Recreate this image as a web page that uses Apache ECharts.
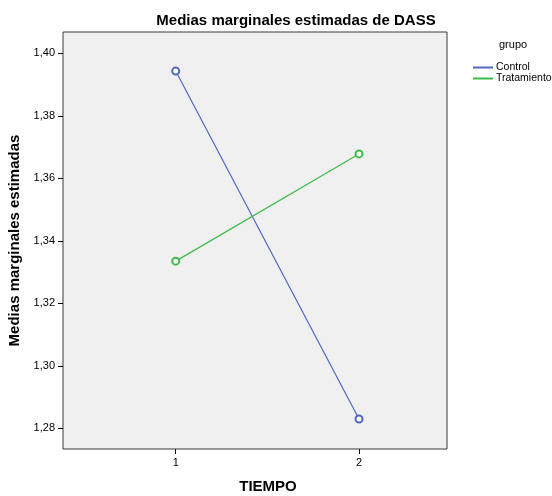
<!DOCTYPE html>
<html>
<head>
<meta charset="utf-8">
<script src="https://cdn.jsdelivr.net/npm/echarts@6/dist/echarts.min.js"></script>
<style>html,body{margin:0;padding:0;background:#fff;}#c{width:552px;height:496px;}</style>
</head>
<body>
<div id="c"></div>
<script>
var tiempo = [1, 2];
var controlVals = [1.3943, 1.2830];
var tratamientoVals = [1.3335, 1.3678];
var yTicks = [1.28, 1.30, 1.32, 1.34, 1.36, 1.38, 1.40];
var xTicks = [1, 2];
var seriesNames = ['Control', 'Tratamiento'];
var colors = ['#4f68c2', '#3dbb4b'];

function pairs(xs, ys) { return xs.map(function (x, i) { return [x, ys[i]]; }); }

var chart = echarts.init(document.getElementById('c'), null, { renderer: 'canvas' });
var font = 'Arial, "Liberation Sans", sans-serif';
chart.setOption({
  animation: false,
  textStyle: { fontFamily: font },
  grid: { left: 63, top: 32, width: 384, height: 417, show: true, backgroundColor: '#f0f0f0', borderColor: '#3a3a3a', borderWidth: 1, containLabel: false, outerBoundsMode: 'none' },
  graphic: [
    { type: 'text', style: { x: 296, y: 21, text: 'Medias marginales estimadas de DASS', textAlign: 'center', textVerticalAlign: 'middle', font: 'bold 15px ' + font, fill: '#000' } },
    { type: 'text', style: { x: 268, y: 487, text: 'TIEMPO', textAlign: 'center', textVerticalAlign: 'middle', font: 'bold 15px ' + font, fill: '#000' } },
    { type: 'text', style: { x: 499, y: 45, text: 'grupo', textAlign: 'left', textVerticalAlign: 'middle', font: '11px ' + font, fill: '#000' } }
  ],
  legend: {
    orient: 'vertical', left: 473, top: 62, padding: 0, itemWidth: 20, itemHeight: 2, itemGap: 0, icon: 'rect',
    textStyle: { fontSize: 10.5, lineHeight: 10.5, color: '#000', padding: [0, 0, 0, -2] },
    data: seriesNames
  },
  xAxis: {
    type: 'value', min: 0.385, max: 2.48,
    axisLine: { show: false },
    splitLine: { show: false },
    axisTick: { show: true, length: 5, customValues: xTicks, lineStyle: { color: '#000' } },
    axisLabel: { customValues: xTicks, margin: 8, fontSize: 11, color: '#000' }
  },
  yAxis: {
    type: 'value', min: 1.2734, max: 1.4068,
    name: 'Medias marginales estimadas', nameLocation: 'middle', nameGap: 34,
    nameTextStyle: { fontSize: 15, fontWeight: 'bold', color: '#000' },
    axisLine: { show: false },
    splitLine: { show: false },
    axisTick: { show: true, length: 5, customValues: yTicks, lineStyle: { color: '#000' } },
    axisLabel: { customValues: yTicks, margin: 8, fontSize: 11, color: '#000', formatter: function (v) { return v.toFixed(2).replace('.', ','); } }
  },
  series: [
    { name: seriesNames[0], type: 'line', data: pairs(tiempo, controlVals), symbol: 'emptyCircle', symbolSize: 7, color: colors[0], lineStyle: { width: 1.2, color: colors[0] }, itemStyle: { color: colors[0], borderWidth: 1.2 } },
    { name: seriesNames[1], type: 'line', data: pairs(tiempo, tratamientoVals), symbol: 'emptyCircle', symbolSize: 7, color: colors[1], lineStyle: { width: 1.2, color: colors[1] }, itemStyle: { color: colors[1], borderWidth: 1.2 } }
  ]
});
</script>
</body>
</html>
